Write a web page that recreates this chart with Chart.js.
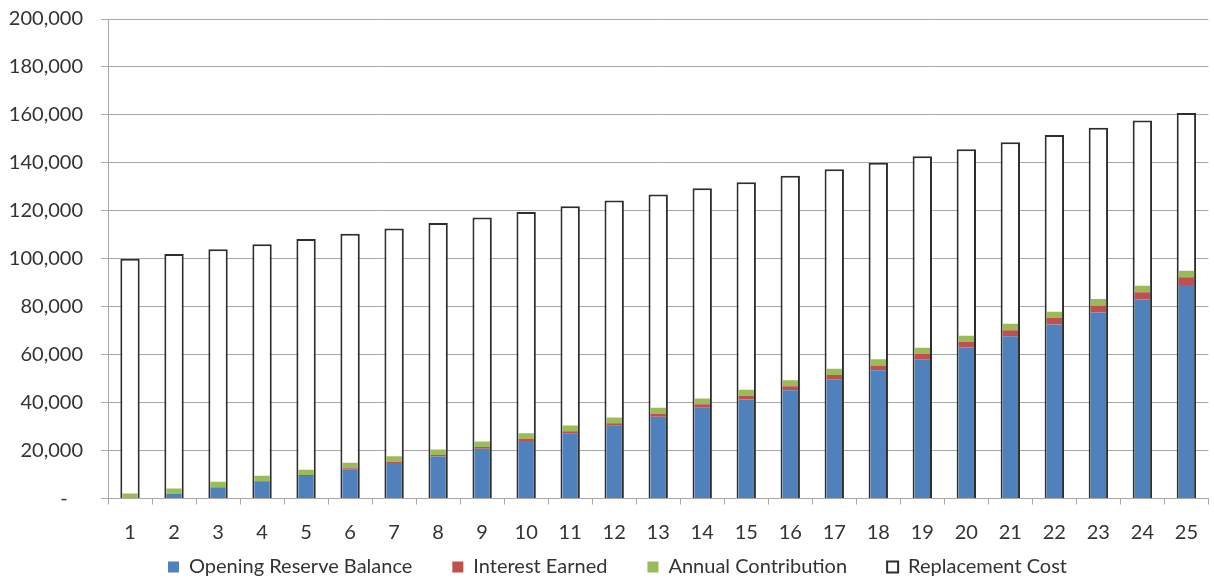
<!DOCTYPE html>
<html>
<head>
<meta charset="utf-8">
<script src="https://cdn.jsdelivr.net/npm/chart.js@4/dist/chart.umd.min.js"></script>
<style>
  html, body { margin: 0; padding: 0; background: #ffffff; }
  #wrap { width: 1214px; height: 580px; position: relative; }
</style>
</head>
<body>
<div id="wrap"><canvas id="chart" width="1214" height="580"></canvas></div>
<script>
// Reserve fund projection, years 1–25
const years = ['1','2','3','4','5','6','7','8','9','10','11','12','13','14','15','16','17','18','19','20','21','22','23','24','25'];

const openingReserveBalance = [0, 2000, 4600, 7000, 9400, 12200, 14800, 17500, 20700, 24000, 27000, 30300, 34100, 37900, 41300, 45200, 49700, 53500, 58100, 63000, 67700, 72600, 77600, 83000, 89000];
const interestEarned = [0, 70, 170, 260, 350, 450, 550, 650, 770, 890, 1000, 1120, 1260, 1400, 1530, 1670, 1840, 1980, 2150, 2330, 2500, 2690, 2870, 3070, 3290];
const annualContribution = [2100, 2150, 2200, 2200, 2250, 2250, 2300, 2300, 2350, 2350, 2400, 2400, 2450, 2450, 2500, 2500, 2550, 2550, 2600, 2600, 2650, 2650, 2700, 2700, 2750];
const replacementCost = [100000, 102000, 104000, 106100, 108200, 110400, 112600, 114900, 117200, 119500, 121900, 124300, 126800, 129400, 131900, 134600, 137300, 140000, 142800, 145700, 148600, 151600, 154600, 157700, 160800];

const yTicks = { min: 0, max: 200000, step: 20000 };

const FONT = 'Lato';
const TEXT = '#333333';
const GRID = '#a8a8a8';

const innerBar = 0.35;   // stacked reserve segments sit inside the cost outline
const outerBar = 0.44;

const LEGEND_PAD = 40;
const LEGEND_FONT = 20;

// Place the legend row low in the canvas, slightly right of centre
const legendPlacement = {
  id: 'legendPlacement',
  afterLayout(chart) {
    const lg = chart.legend;
    if (!lg) return;
    const centreY = 567;
    lg.top = centreY - LEGEND_PAD - LEGEND_FONT / 2;
    lg.bottom = chart.height;
    lg.left += 21;
  }
};

new Chart(document.getElementById('chart'), {
  type: 'bar',
  data: {
    labels: years,
    datasets: [
      { label: 'Opening Reserve Balance', data: openingReserveBalance, backgroundColor: '#4f81bd', stack: 'reserve', order: 0, barPercentage: innerBar },
      { label: 'Interest Earned', data: interestEarned, backgroundColor: '#c0504d', stack: 'reserve', order: 0, barPercentage: innerBar },
      { label: 'Annual Contribution', data: annualContribution, backgroundColor: '#9bbb59', stack: 'reserve', order: 0, barPercentage: innerBar },
      { label: 'Replacement Cost', data: replacementCost, backgroundColor: '#ffffff', borderColor: '#2e2e2e', borderWidth: 2, stack: 'cost', order: 1, barPercentage: outerBar }
    ]
  },
  plugins: [legendPlacement],
  options: {
    responsive: false,
    animation: false,
    datasets: { bar: { grouped: false, categoryPercentage: 1 } },
    layout: { padding: { left: 0, top: 19, right: 0, bottom: 0 } },
    scales: {
      x: {
        stacked: true,
        grid: { offset: true, drawOnChartArea: false, drawTicks: true, tickLength: 6, color: GRID, lineWidth: 1 },
        border: { display: true, color: GRID, width: 1 },
        ticks: { font: { family: FONT, size: 20 }, color: TEXT, padding: 16, maxRotation: 0, autoSkip: false },
        afterFit: (s) => { s.height = 47.5; }
      },
      y: {
        stacked: true,
        min: yTicks.min,
        max: yTicks.max,
        ticks: {
          stepSize: yTicks.step,
          font: { family: FONT, size: 20, lineHeight: 0.1 },
          color: TEXT,
          padding: 18,
          callback: (v) => v === 0 ? '-   ' : v.toLocaleString('en-US')
        },
        grid: { color: GRID, lineWidth: 1, tickLength: 7 },
        border: { display: true, color: GRID, width: 1 },
        afterFit: (s) => { s.width = 108; }
      }
    },
    plugins: {
      tooltip: { enabled: false },
      legend: {
        position: 'bottom',
        maxHeight: 34,
        labels: {
          font: { family: FONT, size: LEGEND_FONT },
          color: TEXT,
          boxWidth: 11,
          boxHeight: 11,
          padding: LEGEND_PAD,
          useBorderRadius: false
        }
      }
    }
  }
});
</script>
</body>
</html>
